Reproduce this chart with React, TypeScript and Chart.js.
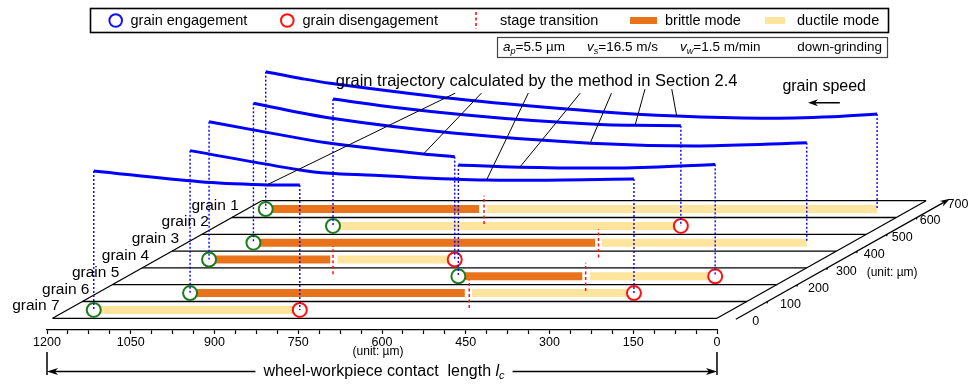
import React, { useEffect, useRef } from "react";
import { Chart, registerables } from "chart.js";

Chart.register(...registerables);

const FONT = '"Liberation Sans", Arial, Helvetica, sans-serif';

// ---------------- data ----------------
const grainNames = ["grain 1", "grain 2", "grain 3", "grain 4", "grain 5", "grain 6", "grain 7"];
// depth (across the workpiece width, µm) of each grain lane centre
const laneDepth = [650, 550, 450, 350, 250, 150, 50];
// lane boundaries (µm)
const laneEdges = [0, 100, 200, 300, 400, 500, 600, 700];
const contactLength = 1190;

// positions along the wheel-workpiece contact length (µm)
const engagePos = [1156, 982, 1071, 1097, 597, 1024, 1143];
const brittleEnd = [774, null, 459, 880, 375, 532, null];
const transitionPos = [765, null, 453, 875, 369, 524, null];
const ductileStart = [760, 982, 447, 867, 361, 519, 1143];
const disengagePos = [61, 359, 80, 657, 137, 229, 774];

// grain trajectories: position (µm) and elevation above the lane (display units)
const traj1Pos = [1156, 1095, 1041, 796, 557, 420, 271, 140, 61];
const traj1Elev = [818, 779, 749, 649, 580, 554, 541, 550, 566];
const traj2Pos = [982, 862, 744, 624, 504, 441, 359];
const traj2Elev = [755, 702, 660, 627, 604, 599, 596];
const traj3Pos = [1071, 934, 714, 468, 271, 80];
const traj3Elev = [830, 742, 653, 592, 576, 595];
const traj4Pos = [1097, 934, 880, 713, 657];
const traj4Elev = [820, 721, 692, 628, 612];
const traj5Pos = [597, 487, 343, 254, 137];
const traj5Elev = [663, 649, 644, 649, 666];
const traj6Pos = [1024, 827, 774, 708, 493, 229];
const traj6Elev = [848, 733, 713, 703, 673, 679];
const traj7Pos = [1143, 953, 833, 774];
const traj7Elev = [827, 763, 744, 744];
const trajPos = [traj1Pos, traj2Pos, traj3Pos, traj4Pos, traj5Pos, traj6Pos, traj7Pos];
const trajElev = [traj1Elev, traj2Elev, traj3Elev, traj4Elev, traj5Elev, traj6Elev, traj7Elev];

// leader lines from the annotation text to the trajectories
const leaderGrain = [6, 3, 5, 4, 2, 1, 0];
const leaderPoint = [2, 3, 4, 1, 3, 5, 5];
const leaderTopX = [469, 422, 338, 245, 189, 129, 81];
const leaderTopY = [1340, 1340, 1340, 1340, 1340, 1364, 1364];

// ticks
const xLabelTicks = [0, 150, 300, 450, 600, 750, 900, 1050, 1200];
const xTicks: number[] = [];
for (let i = 0; i <= 32; i++) xTicks.push(i * 37.5);
const depthTicks = [0, 100, 200, 300, 400, 500, 600, 700];

const legendLabels = ["grain engagement", "grain disengagement", "stage transition", "brittle mode", "ductile mode"];

// ---------------- styles ----------------
const BLUE = "#0000ff";
const RED = "#ff1010";
const GREEN = "#1c7c1c";
const ORANGE = "#e8731a";
const PALE = "#ffe49e";
const SKEW = 0.535; // oblique projection of the depth axis onto the contact-length axis

const P = (p: number, d: number) => ({ x: p - SKEW * d, y: d });

function line(data: any[], style: any) {
  return {
    type: "scatter",
    data,
    showLine: true,
    pointRadius: 0,
    fill: false,
    clip: false,
    borderColor: "#000",
    borderWidth: 1.3,
    ...style,
  };
}

function buildDatasets() {
  const ds: any[] = [];
  laneEdges.forEach((d) => ds.push(line([P(0, d), P(contactLength, d)], { order: 20 })));
  ds.push(line([P(0, 0), P(0, 700)], { order: 20 }));
  ds.push(line([P(contactLength, 0), P(contactLength, 700)], { order: 20 }));
  // depth axis
  ds.push(line([P(-37, -6), P(-37, 690)], { order: 20 }));

  laneDepth.forEach((d, i) => {
    if (brittleEnd[i] !== null) {
      ds.push(line([P(engagePos[i], d), P(brittleEnd[i] as number, d)], { borderColor: ORANGE, borderWidth: 8, borderCapStyle: "butt", order: 15 }));
    }
    ds.push(line([P(ductileStart[i], d), P(disengagePos[i], d)], { borderColor: PALE, borderWidth: 8, borderCapStyle: "butt", order: 15 }));
    if (transitionPos[i] !== null) {
      const x = (transitionPos[i] as number) - SKEW * d;
      ds.push(line([{ x, y: d - 88 }, { x, y: d + 80 }], { borderColor: RED, borderWidth: 1.5, borderDash: [3, 2.5], order: 12 }));
    }
    // trajectory
    const tp = trajPos[i], te = trajElev[i];
    ds.push(line(tp.map((p, k) => ({ x: p - SKEW * d, y: d + te[k] })), { borderColor: BLUE, borderWidth: 3, tension: 0.35, order: 8 }));
    // dotted projections
    const x0 = engagePos[i] - SKEW * d, x1 = disengagePos[i] - SKEW * d;
    ds.push(line([{ x: x0, y: d + te[0] }, { x: x0, y: d }], { borderColor: BLUE, borderWidth: 1.4, borderDash: [2, 2], order: 4 }));
    ds.push(line([{ x: x1, y: d + te[te.length - 1] }, { x: x1, y: d }], { borderColor: BLUE, borderWidth: 1.4, borderDash: [2, 2], order: 4 }));
  });

  ds.push({
    type: "scatter",
    data: engagePos.map((p, i) => P(p, laneDepth[i])),
    pointRadius: 7,
    pointBorderWidth: 2,
    pointBorderColor: GREEN,
    pointBackgroundColor: "#fff",
    clip: false,
    order: 6,
  });
  ds.push({
    type: "scatter",
    data: disengagePos.map((p, i) => P(p, laneDepth[i])),
    pointRadius: 7,
    pointBorderWidth: 2,
    pointBorderColor: RED,
    pointBackgroundColor: "#fff",
    clip: false,
    order: 6,
  });

  leaderGrain.forEach((g, k) => {
    const d = laneDepth[g];
    const pi = leaderPoint[k];
    ds.push(line([{ x: leaderTopX[k], y: leaderTopY[k] }, { x: trajPos[g][pi] - SKEW * d, y: d + trajElev[g][pi] }], { borderWidth: 1, order: 2 }));
  });
  return ds;
}

function arrowHead(ctx: CanvasRenderingContext2D, tx: number, ty: number, dx: number, dy: number, len = 10, half = 3.5) {
  const n = Math.hypot(dx, dy);
  const ux = dx / n, uy = dy / n;
  const bx = tx - ux * len, by = ty - uy * len;
  ctx.beginPath();
  ctx.moveTo(tx, ty);
  ctx.lineTo(bx - uy * half, by + ux * half);
  ctx.lineTo(bx + ux * 3, by + uy * 3);
  ctx.lineTo(bx + uy * half, by - ux * half);
  ctx.closePath();
  ctx.fill();
}

function subText(ctx: CanvasRenderingContext2D, x: number, y: number, main: string, sub: string, rest: string, size: number) {
  ctx.textAlign = "left";
  ctx.font = `italic ${size}px ${FONT}`;
  ctx.fillText(main, x, y);
  x += ctx.measureText(main).width;
  ctx.font = `italic ${size * 0.68}px ${FONT}`;
  ctx.fillText(sub, x, y + size * 0.3);
  x += ctx.measureText(sub).width;
  ctx.font = `${size}px ${FONT}`;
  ctx.fillText(rest, x, y);
  return x + ctx.measureText(rest).width;
}

const overlay = {
  id: "overlay",
  afterDatasetsDraw(chart: any) {
    const ctx: CanvasRenderingContext2D = chart.ctx;
    const xs = chart.scales.x, ys = chart.scales.y;
    const px = (v: number) => xs.getPixelForValue(v);
    const py = (v: number) => ys.getPixelForValue(v);
    ctx.save();
    ctx.fillStyle = "#000";
    ctx.strokeStyle = "#000";
    ctx.textBaseline = "middle";

    // ----- legend -----
    ctx.lineWidth = 1.6;
    ctx.strokeRect(90.5, 8.5, 798, 24);
    const ly = 20.5;
    ctx.font = `14.5px ${FONT}`;
    ctx.lineWidth = 2;
    ctx.strokeStyle = "#1010ff";
    ctx.beginPath(); ctx.arc(115.7, ly, 6.3, 0, Math.PI * 2); ctx.stroke();
    ctx.fillText(legendLabels[0], 130.5, ly);
    ctx.strokeStyle = RED;
    ctx.beginPath(); ctx.arc(287.3, ly, 6.3, 0, Math.PI * 2); ctx.stroke();
    ctx.fillText(legendLabels[1], 302.5, ly);
    ctx.lineWidth = 1.6;
    ctx.setLineDash([3, 2.5]);
    ctx.beginPath(); ctx.moveTo(476, 12); ctx.lineTo(476, 29); ctx.stroke();
    ctx.setLineDash([]);
    ctx.fillText(legendLabels[2], 500, ly);
    ctx.fillStyle = ORANGE; ctx.fillRect(630, 17, 27, 7);
    ctx.fillStyle = "#000"; ctx.fillText(legendLabels[3], 665, ly);
    ctx.fillStyle = PALE; ctx.fillRect(765, 17, 20, 7);
    ctx.fillStyle = "#000"; ctx.fillText(legendLabels[4], 797, ly);

    // ----- parameter box -----
    ctx.strokeStyle = "#444";
    ctx.lineWidth = 1.2;
    ctx.strokeRect(497.5, 37.5, 390, 20);
    const pyRow = 47;
    subText(ctx, 503, pyRow, "a", "p", "=5.5 µm", 13.5);
    subText(ctx, 587, pyRow, "v", "s", "=16.5 m/s", 13.5);
    subText(ctx, 680, pyRow, "v", "w", "=1.5 m/min", 13.5);
    ctx.font = `13.5px ${FONT}`;
    ctx.textAlign = "right";
    ctx.fillText("down-grinding", 882, pyRow);

    // ----- annotation texts -----
    ctx.textAlign = "center";
    ctx.font = `16.5px ${FONT}`;
    ctx.fillText("grain trajectory calculated by the method in Section 2.4", px(323), py(1412));
    ctx.font = `16px ${FONT}`;
    ctx.fillText("grain speed", px(-192), py(1377));
    ctx.strokeStyle = "#000";
    ctx.lineWidth = 1.5;
    ctx.beginPath(); ctx.moveTo(px(-220), py(1283)); ctx.lineTo(px(-170), py(1283)); ctx.stroke();
    arrowHead(ctx, px(-163), py(1283), -1, 0, 10, 3.5);

    // ----- grain labels -----
    ctx.textAlign = "right";
    ctx.font = `15.5px ${FONT}`;
    grainNames.forEach((g, i) => {
      const pt = P(contactLength + 26, laneDepth[i] + 22);
      ctx.fillText(g, px(pt.x), py(pt.y));
    });

    // ----- depth axis -----
    const a0 = P(-37, -6), a1 = P(-37, 690);
    const ax0 = px(a0.x), ay0 = py(a0.y), ax1 = px(a1.x), ay1 = py(a1.y);
    arrowHead(ctx, ax1 + (ax1 - ax0) * 0.03, ay1 + (ay1 - ay0) * 0.03, ax1 - ax0, ay1 - ay0, 10, 3.2);
    ctx.lineWidth = 1.2;
    const ux = (ax1 - ax0) / Math.hypot(ax1 - ax0, ay1 - ay0), uy = (ay1 - ay0) / Math.hypot(ax1 - ax0, ay1 - ay0);
    depthTicks.forEach((d) => {
      if (d === 0 || d === 700) return;
      const t = P(-37, d);
      const tx = px(t.x), ty = py(t.y);
      ctx.beginPath(); ctx.moveTo(tx, ty); ctx.lineTo(tx - ux * 4 + 3, ty - uy * 4); ctx.stroke();
    });
    ctx.textAlign = "left";
    ctx.font = `12.5px ${FONT}`;
    depthTicks.forEach((d) => {
      ctx.fillText(String(d), px(-63 - 0.5 * d), py(d - 20));
    });
    ctx.font = `12px ${FONT}`;
    ctx.fillText("(unit: µm)", px(-268), py(269));

    // ----- contact length arrow -----
    const xl = px(1200), xr = px(0);
    ctx.textAlign = "center";
    ctx.font = `12px ${FONT}`;
    ctx.fillText("(unit: µm)", px(600) - 4, 352);
    const yArr = 371.5;
    ctx.lineWidth = 1.5;
    ctx.beginPath();
    ctx.moveTo(xl, 352); ctx.lineTo(xl, 375);
    ctx.moveTo(xr, 352); ctx.lineTo(xr, 375);
    ctx.stroke();
    const mainT = "wheel-workpiece contact  length ";
    ctx.font = `16px ${FONT}`;
    const w1 = ctx.measureText(mainT).width;
    ctx.font = `italic 16px ${FONT}`;
    const w2 = ctx.measureText("l").width;
    ctx.font = `italic 11px ${FONT}`;
    const w3 = ctx.measureText("c").width;
    const tw = w1 + w2 + w3;
    const cx = (xl + xr) / 2 + 2;
    const tl = cx - tw / 2;
    ctx.textAlign = "left";
    ctx.font = `16px ${FONT}`;
    ctx.fillText(mainT, tl, yArr);
    ctx.font = `italic 16px ${FONT}`;
    ctx.fillText("l", tl + w1, yArr);
    ctx.font = `italic 11px ${FONT}`;
    ctx.fillText("c", tl + w1 + w2, yArr + 4);
    ctx.beginPath();
    ctx.moveTo(tl - 8, yArr); ctx.lineTo(xl + 6, yArr);
    ctx.moveTo(tl + tw + 8, yArr); ctx.lineTo(xr - 6, yArr);
    ctx.stroke();
    arrowHead(ctx, xl, yArr, -1, 0, 11, 3.5);
    arrowHead(ctx, xr, yArr, 1, 0, 11, 3.5);

    ctx.restore();
  },
};

export default function App() {
  const ref = useRef<HTMLCanvasElement>(null);
  useEffect(() => {
    document.body.style.margin = "0";
    const chart: any = new Chart(ref.current as HTMLCanvasElement, {
      type: "scatter",
      data: { datasets: buildDatasets() },
      options: {
        responsive: false,
        maintainAspectRatio: false,
        animation: false,
        devicePixelRatio: 1,
        events: [],
        layout: { padding: { left: 47, right: 254, top: 0, bottom: 36 } },
        plugins: { legend: { display: false }, tooltip: { enabled: false } },
        scales: {
          x: {
            type: "linear",
            min: 0,
            max: 1200,
            reverse: true,
            position: "bottom",
            border: { display: true, color: "#000", width: 1.3 },
            grid: { display: true, drawOnChartArea: false, drawTicks: true, tickLength: 4, color: "#000", tickWidth: 1.2 },
            afterBuildTicks: (scale: any) => {
              scale.ticks = xTicks.map((v) => ({ value: v }));
            },
            ticks: {
              autoSkip: false,
              maxRotation: 0,
              padding: 1,
              color: "#000",
              font: { size: 12.5, family: FONT },
              callback: (v: any) => (xLabelTicks.includes(Number(v)) ? String(v) : ""),
            },
          },
          y: { type: "linear", display: false, min: -80, max: 1895 },
        },
      } as any,
      plugins: [overlay],
    } as any);
    // calibrate the hidden vertical scale so the lane plane sits where the figure places it
    const area = chart.chartArea;
    const k = (318.3 - 200.7) / 700;
    const yMin = -(area.bottom - 318.3) / k;
    const yMax = yMin + (area.bottom - area.top) / k;
    chart.options.scales.y.min = yMin;
    chart.options.scales.y.max = yMax;
    chart.update();
    return () => chart.destroy();
  }, []);
  return <canvas ref={ref} width={971} height={387} style={{ display: "block", width: 971, height: 387 }} />;
}
